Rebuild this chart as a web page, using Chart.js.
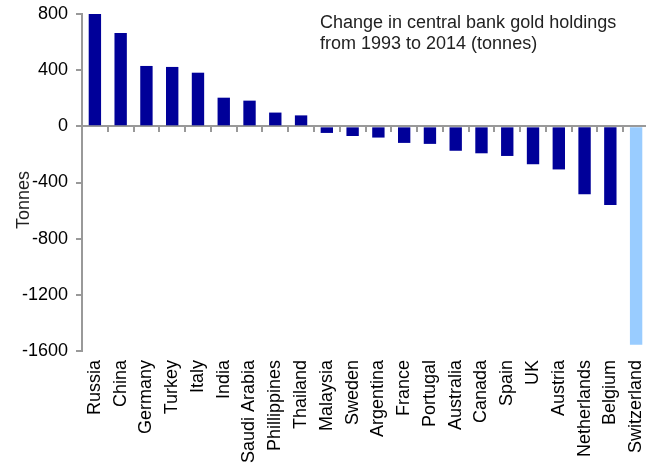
<!DOCTYPE html>
<html>
<head>
<meta charset="utf-8">
<script src="https://cdn.jsdelivr.net/npm/chart.js@4"></script>
<style>
  html, body { margin: 0; padding: 0; overflow: hidden; background: #fff; }
  #wrap { width: 649px; height: 467px; }
</style>
</head>
<body>
<div id="wrap"><canvas id="chart" width="649" height="467"></canvas></div>
<script>
// data
const countries = ["Russia", "China", "Germany", "Turkey", "Italy", "India", "Saudi Arabia",
  "Phillippines", "Thailand", "Malaysia", "Sweden", "Argentina", "France", "Portugal",
  "Australia", "Canada", "Spain", "UK", "Austria", "Netherlands", "Belgium", "Switzerland"];
const tonnes = [800, 665, 430, 423, 382, 204, 183, 98, 78, -47, -69, -80, -118, -125,
  -174, -192, -211, -270, -307, -484, -560, -1555];
const yTicks = [800, 400, 0, -400, -800, -1200, -1600];
const highlight = "Switzerland";
const titleLines = ["Change in central bank gold holdings", "from 1993 to 2014 (tonnes)"];
const yTitle = "Tonnes";

const FONT = "'Liberation Sans', Arial, sans-serif";
const GREY = "#999999";

// extra text: note in top right + rotated axis title
const notes = {
  id: "notes",
  afterDraw(chart) {
    const ctx = chart.ctx;
    ctx.save();
    ctx.fillStyle = "#222";
    ctx.font = "18px " + FONT;
    ctx.textAlign = "left";
    ctx.textBaseline = "alphabetic";
    titleLines.forEach((t, i) => ctx.fillText(t, 320, 28 + i * 21));

    ctx.translate(29, 200);
    ctx.rotate(-Math.PI / 2);
    ctx.textAlign = "center";
    ctx.fillText(yTitle, 0, 0);
    ctx.restore();
  }
};

new Chart(document.getElementById("chart"), {
  type: "bar",
  data: {
    labels: countries,
    datasets: [{
      data: tonnes,
      backgroundColor: countries.map(c => c === highlight ? "#99CCFF" : "#000099"),
      barPercentage: 0.48,
      categoryPercentage: 1
    }]
  },
  options: {
    responsive: false,
    animation: false,
    layout: { padding: { top: 14, right: 0, left: 0, bottom: 0 } },
    plugins: { legend: { display: false }, tooltip: { enabled: false } },
    scales: {
      x: {
        position: "bottom",
        grid: { display: false },
        border: { display: false },
        ticks: {
          color: "#000",
          font: { family: FONT, size: 18 },
          minRotation: 90,
          maxRotation: 90,
          autoSkip: false,
          padding: 1
        },
        afterFit: s => { s.height = 116; s.paddingLeft = 0; s.paddingRight = 0; }
      },
      // zero line with tick marks between the categories
      x0: {
        type: "category",
        position: { y: 0 },
        offset: true,
        grid: { offset: true, drawOnChartArea: false, color: GREY, tickLength: 5, lineWidth: 2 },
        border: { color: GREY, width: 2 },
        ticks: { display: false },
        afterFit: s => { s.paddingLeft = 0; s.paddingRight = 0; }
      },
      y: {
        min: -1600,
        max: 800,
        afterBuildTicks: s => { s.ticks = yTicks.map(v => ({ value: v })); },
        grid: { drawOnChartArea: false, tickColor: GREY, tickLength: 6, lineWidth: 2 },
        border: { color: GREY, width: 2 },
        ticks: {
          color: "#000",
          font: { family: FONT, size: 18 },
          padding: 8,
          callback: v => String(v)
        },
        afterFit: s => { s.width = 82; s.paddingTop = 0; s.paddingBottom = 0; }
      }
    }
  },
  plugins: [notes]
});
</script>
</body>
</html>
